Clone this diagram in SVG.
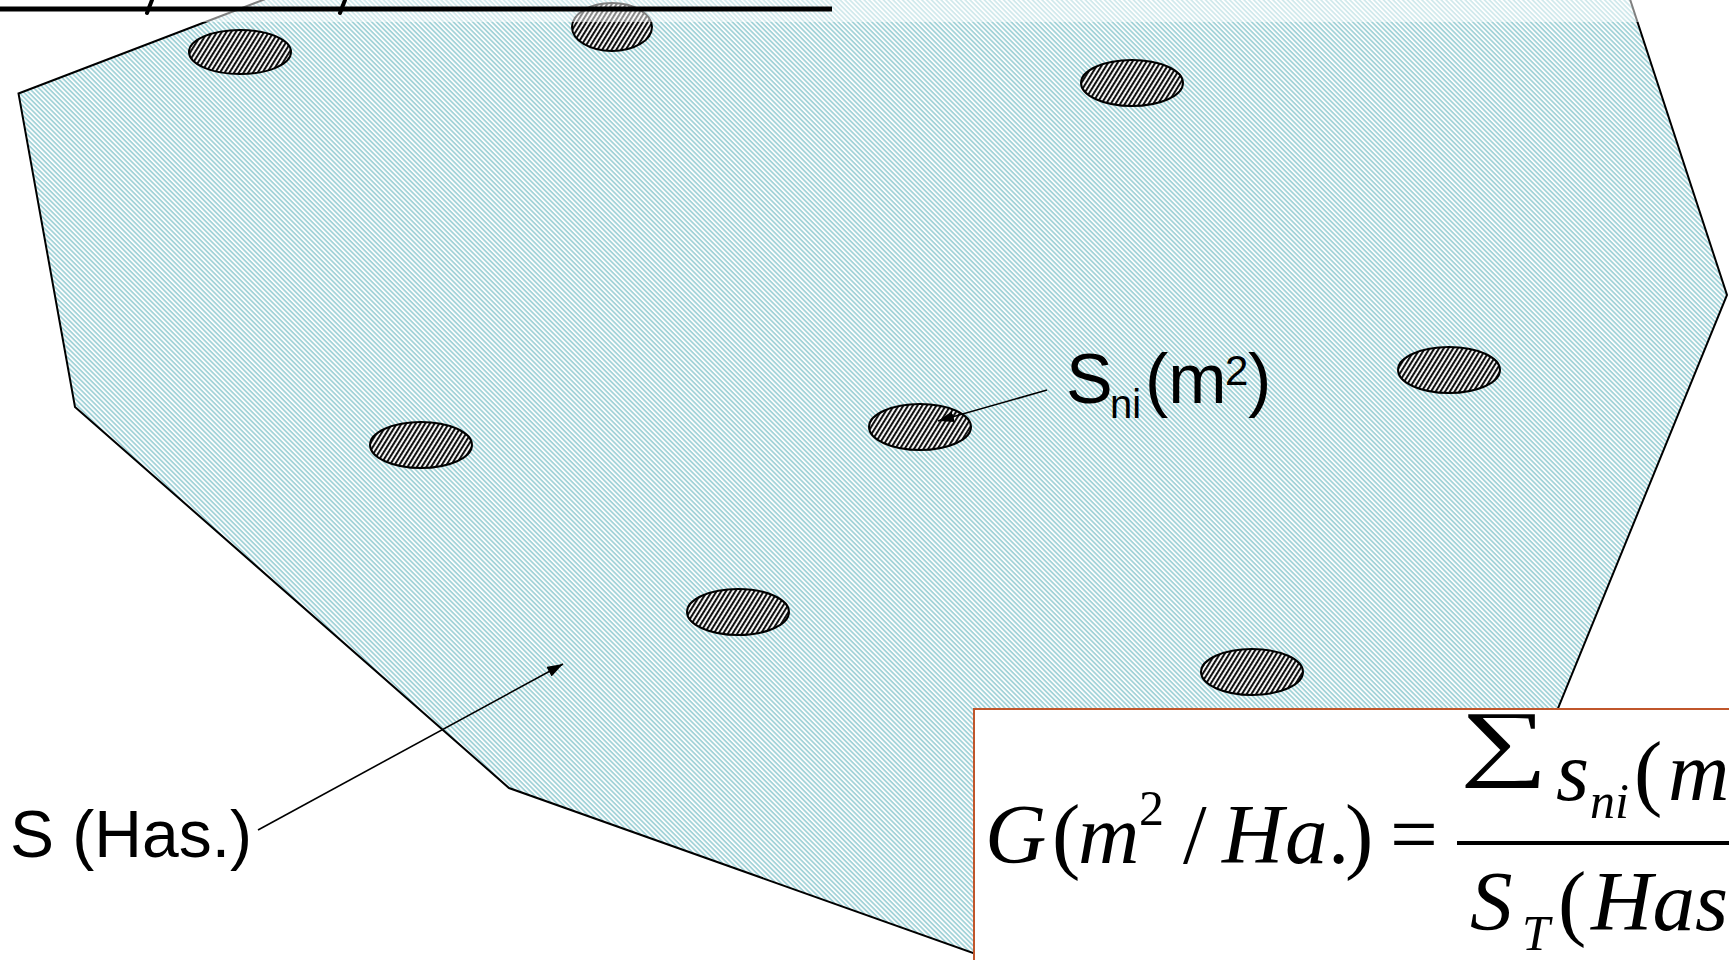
<svg xmlns="http://www.w3.org/2000/svg" width="1729" height="960" viewBox="0 0 1729 960">
<defs>
<pattern id="bg" patternUnits="userSpaceOnUse" width="3.4" height="3.4" patternTransform="rotate(45)">
<rect width="3.4" height="3.4" fill="#ffffff"/>
<rect width="3.4" height="1.8" fill="#a3d3d8"/>
</pattern>
<pattern id="hatch" patternUnits="userSpaceOnUse" width="4" height="4" patternTransform="rotate(-58)">
<rect width="4" height="4" fill="#ffffff"/>
<rect width="4" height="2.1" fill="#111111"/>
</pattern>
<marker id="ah" markerUnits="userSpaceOnUse" markerWidth="17" markerHeight="12" refX="16" refY="5.5" orient="auto">
<path d="M0,0 L16,5.5 L0,11 Z" fill="#000"/>
</marker>
</defs>
<style>
.spot{fill:url(#hatch);stroke:#000;stroke-width:2}
.lbl{font-family:"Liberation Sans","Open Sans",sans-serif;fill:#000}
.math{font-family:"Liberation Serif","Times New Roman",serif;fill:#000;font-size:85px}
.it{font-style:italic}
.conn{stroke:#000;stroke-width:1.6;fill:none;marker-end:url(#ah)}
</style>
<rect width="1729" height="960" fill="#ffffff"/>
<g id="area">
<polygon points="18.5,93.5 289,-10 1627,-10 1727,295 1440,997 1080,991 509,788 75,407" fill="url(#bg)" stroke="#000" stroke-width="2"/>
</g>
<g id="spots">
<ellipse id="spot1" class="spot" cx="240" cy="52" rx="51" ry="22"/>
<ellipse id="spot2" class="spot" cx="612" cy="27" rx="40" ry="24"/>
<ellipse id="spot3" class="spot" cx="1132" cy="83" rx="51" ry="23"/>
<ellipse id="spot4" class="spot" cx="1449" cy="370" rx="51" ry="23"/>
<ellipse id="spot5" class="spot" cx="421" cy="445" rx="51" ry="23"/>
<ellipse id="spot6" class="spot" cx="920" cy="427" rx="51" ry="23"/>
<ellipse id="spot7" class="spot" cx="738" cy="612" rx="51" ry="23"/>
<ellipse id="spot8" class="spot" cx="1252" cy="672" rx="51" ry="23"/>
</g>
<g id="title-strip">
<rect x="0" y="0" width="1729" height="22" fill="#ffffff" fill-opacity="0.5"/>
<line x1="0" y1="9" x2="832" y2="9" stroke="#000" stroke-width="5"/>
<line x1="152" y1="0" x2="147" y2="13" stroke="#000" stroke-width="4" stroke-linecap="round"/>
<line x1="345" y1="0" x2="340" y2="13" stroke="#000" stroke-width="4" stroke-linecap="round"/>
</g>
<g id="label-sni">
<text class="lbl" font-size="70"><tspan x="1066" y="403">S</tspan><tspan x="1110" y="418" font-size="40">ni</tspan><tspan x="1145" y="403">(m</tspan><tspan x="1225" y="385" font-size="42">2</tspan><tspan x="1248" y="403">)</tspan></text>
</g>
<g id="label-s">
<text class="lbl" x="10" y="857" font-size="66">S (Has.)</text>
</g>
<g id="connectors">
<line class="conn" x1="1047" y1="390" x2="938" y2="421"/>
<line class="conn" x1="258" y1="830" x2="563" y2="664"/>
</g>
<g id="formula">
<rect x="974" y="709" width="800" height="300" fill="#ffffff" stroke="#c0562b" stroke-width="2"/>
<text class="math"><tspan class="it" x="985" y="863">G</tspan><tspan x="1052" y="863">(</tspan><tspan class="it" x="1078" y="863">m</tspan><tspan x="1139" y="825" font-size="50">2</tspan><tspan x="1183" y="863">/</tspan><tspan class="it" x="1222" y="863">H</tspan><tspan class="it" x="1285" y="863">a</tspan><tspan x="1328" y="863">.</tspan><tspan x="1345" y="863">)</tspan><tspan x="1390" y="863">=</tspan></text>
<text class="math" x="1460" y="770" font-size="82" textLength="88" lengthAdjust="spacingAndGlyphs">∑</text>
<text class="math"><tspan class="it" x="1556" y="800">s</tspan><tspan class="it" x="1590" y="818" font-size="50">ni</tspan><tspan x="1634" y="800">(</tspan><tspan class="it" x="1668" y="800">m</tspan></text>
<line x1="1457" y1="843" x2="1729" y2="843" stroke="#000" stroke-width="4"/>
<text class="math"><tspan class="it" x="1470" y="930">S</tspan><tspan class="it" x="1522" y="950" font-size="50">T</tspan><tspan x="1558" y="930">(</tspan><tspan class="it" x="1591" y="930">Has</tspan></text>
</g>
</svg>
